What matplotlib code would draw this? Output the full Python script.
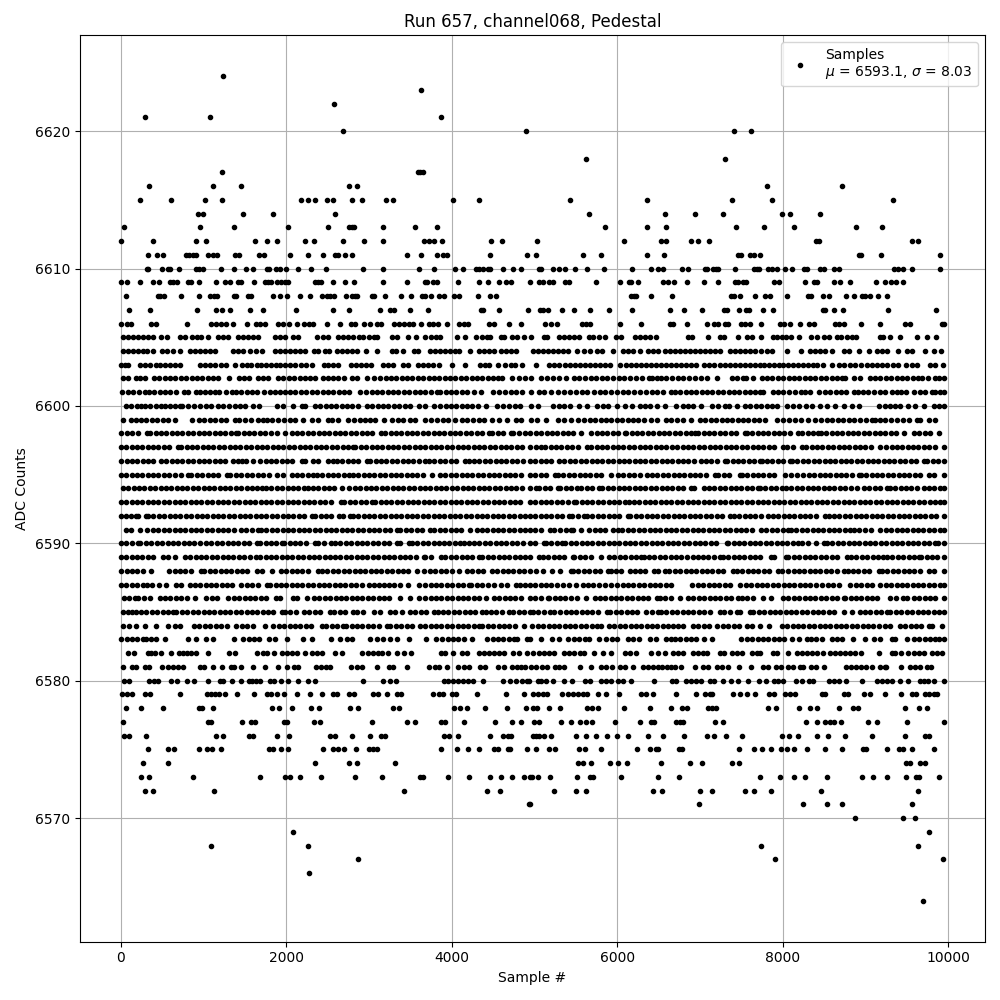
import matplotlib
matplotlib.use("Agg")
import matplotlib.pyplot as plt

# sample numbers, one list per ADC level
adc_6624 = [1232]
adc_6623 = [3632]
adc_6622 = [2578]
adc_6621 = [287, 1075, 3874]
adc_6620 = [2687, 4892, 7414, 7620]
adc_6618 = [5620, 7305]
adc_6617 = [1220, 3588, 3616, 3648]
adc_6616 = [335, 1111, 1450, 2759, 2856, 7814, 8711]
adc_6615 = [238, 602, 1014, 1220, 2178, 2262, 2347, 2493, 2565, 2796, 2917, 3208, 3293, 4020, 4335, 5426, 6360, 7390, 7875, 9329]
adc_6614 = [929, 990, 1475, 1838, 2590, 5657, 6578, 6941, 7281, 7996, 8093, 8456]
adc_6613 = [44, 953, 1366, 2020, 2505, 2759, 2790, 2820, 3171, 3559, 3826, 5851, 6360, 6590, 7438, 7778, 8141, 8881, 9196]
adc_6612 = [8, 384, 905, 1026, 1620, 1765, 1887, 2226, 2335, 2687, 2941, 3171, 3668, 3729, 3790, 3886, 4480, 4602, 5026, 6081, 6529, 6586, 6893, 6978, 7111, 8404, 8436, 9559, 9632]
adc_6611 = [323, 432, 505, 784, 828, 869, 909, 1050, 1111, 1159, 1378, 1426, 1669, 1725, 2044, 2262, 2444, 2586, 2626, 2711, 2796, 3462, 3632, 3818, 3899, 3939, 4468, 4905, 5014, 5584, 5802, 6360, 6566, 7462, 7495, 7604, 7656, 7729, 8917, 8945, 9184, 9899]
adc_6610 = [311, 330, 493, 566, 594, 699, 905, 950, 990, 1208, 1366, 1511, 1596, 1765, 1797, 1875, 1923, 1996, 2141, 2299, 2481, 2929, 3171, 3608, 3790, 4044, 4141, 4295, 4327, 4383, 4432, 4464, 4614, 4735, 4832, 5051, 5075, 5228, 5293, 5366, 5487, 5632, 5838, 6178, 6408, 6493, 6553, 6784, 6856, 7063, 7087, 7159, 7190, 7220, 7426, 7652, 7685, 7717, 7826, 7866, 7931, 8032, 8117, 8259, 8299, 8452, 8493, 8622, 8678, 9349, 9398, 9454, 9559, 9899]
adc_6609 = [0, 69, 226, 392, 465, 598, 635, 675, 816, 848, 941, 1147, 1256, 1317, 1414, 1454, 1608, 1745, 1778, 1814, 1887, 1939, 1984, 2024, 2343, 2383, 2424, 2565, 2711, 2820, 3167, 3462, 3676, 3700, 3777, 3826, 4080, 4335, 4432, 4565, 4650, 4711, 4941, 5051, 5100, 5180, 5220, 5374, 5422, 5741, 6032, 6141, 6165, 6250, 6553, 6614, 6687, 6844, 7050, 7220, 7426, 7462, 7515, 7555, 7899, 7951, 8274, 8380, 8420, 8614, 8687, 8808, 9123, 9232, 9305, 9369, 9450]
adc_6608 = [57, 444, 477, 517, 723, 941, 1075, 1123, 1160, 1374, 1394, 1535, 1575, 1838, 1923, 2008, 2165, 2287, 2432, 2493, 2525, 2578, 2723, 2796, 2828, 2860, 3030, 3062, 3196, 3390, 3511, 3644, 3676, 3753, 3850, 3911, 4032, 4093, 4311, 4468, 4529, 6166, 6198, 6222, 6408, 6663, 7374, 7406, 7487, 7669, 7790, 7850, 8048, 8311, 8343, 8481, 8553, 8759, 8856, 8957, 8990, 9050, 9147, 9256]
adc_6607 = [97, 356, 925, 1155, 1224, 1321, 1563, 1721, 2121, 2561, 2763, 3127, 3256, 3297, 3491, 3709, 4355, 4379, 4569, 4920, 5067, 5108, 5160, 5329, 5475, 5669, 5899, 6178, 6638, 6808, 7026, 7293, 7329, 7475, 7555, 7588, 7765, 7887, 8481, 8505, 8614, 8723, 9268, 9850]
adc_6606 = [4, 69, 125, 368, 420, 800, 1095, 1155, 1216, 1277, 1361, 1527, 1628, 1681, 1741, 1903, 1955, 2036, 2133, 2218, 2279, 2327, 2489, 2650, 2780, 2832, 2941, 3006, 3095, 3143, 3297, 3357, 3418, 3478, 3531, 3628, 3721, 3773, 3834, 3943, 4084, 4145, 4194, 4448, 4509, 4690, 4840, 5127, 5204, 5277, 5576, 5624, 5673, 6028, 6283, 6634, 6675, 6844, 7079, 7172, 7220, 7301, 7341, 7491, 7543, 7604, 7741, 7967, 8016, 8089, 8210, 8319, 8372, 8634, 8674, 8735, 8949, 9180, 9483, 9543, 9927, 9945]
adc_6605 = [32, 85, 145, 206, 267, 327, 388, 489, 558, 719, 772, 865, 921, 974, 1054, 1176, 1236, 1297, 1418, 1479, 1539, 1600, 1660, 1862, 1923, 1984, 2085, 2145, 2376, 2448, 2509, 2630, 2691, 2751, 2812, 2873, 2933, 2994, 3054, 3095, 3276, 3337, 3470, 3567, 3680, 3749, 3810, 3862, 4064, 4165, 4295, 4367, 4428, 4468, 4589, 4630, 4731, 4791, 4872, 4958, 5119, 5148, 5293, 5354, 5414, 5475, 5543, 5657, 5705, 5778, 5851, 5988, 6048, 6210, 6271, 6331, 6392, 6473, 6856, 6905, 7099, 7240, 7289, 7462, 7572, 7624, 7737, 7879, 7935, 7988, 8040, 8097, 8202, 8343, 8420, 8493, 8553, 8654, 8703, 8776, 8836, 8889, 9171, 9212, 9301, 9422, 9624, 9745, 9850]
adc_6604 = [24, 85, 145, 206, 267, 315, 388, 501, 558, 630, 711, 832, 893, 961, 1014, 1075, 1135, 1357, 1418, 1479, 1567, 1628, 1701, 1862, 1923, 1984, 2044, 2105, 2165, 2226, 2335, 2388, 2468, 2521, 2610, 2671, 2731, 2792, 2852, 2965, 3095, 3276, 3329, 3410, 3539, 3588, 3741, 3802, 3862, 3923, 3983, 4044, 4084, 4226, 4327, 4388, 4448, 4509, 4589, 4650, 4711, 4771, 4978, 5038, 5099, 5160, 5220, 5281, 5341, 5402, 5511, 5604, 5665, 5758, 5818, 5947, 6069, 6129, 6190, 6271, 6372, 6432, 6493, 6574, 6634, 6695, 6755, 6816, 6877, 6937, 6998, 7058, 7119, 7180, 7240, 7361, 7422, 7483, 7543, 7604, 7664, 7733, 7806, 7866, 8056, 8222, 8331, 8392, 8452, 8513, 8594, 8735, 8796, 8917, 9038, 9139, 9200, 9260, 9390, 9503, 9563, 9725, 9826, 9907]
adc_6603 = [0, 55, 90, 226, 290, 350, 420, 478, 530, 590, 650, 720, 953, 1015, 1075, 1140, 1205, 1270, 1385, 1470, 1520, 1575, 1640, 1700, 1755, 1810, 1870, 1930, 1990, 2050, 2110, 2175, 2240, 2310, 2450, 2510, 2570, 2625, 2780, 2840, 2900, 2960, 3025, 3165, 3225, 3290, 3410, 3465, 3590, 3650, 3715, 3775, 3840, 4000, 4165, 4340, 4400, 4455, 4560, 4640, 4710, 4770, 4850, 5018, 5180, 5240, 5300, 5365, 5430, 5490, 5550, 5605, 5665, 5730, 5790, 5850, 5910, 6030, 6110, 6170, 6230, 6290, 6350, 6410, 6470, 6530, 6590, 6650, 6710, 6770, 6830, 6890, 6950, 7050, 7110, 7175, 7240, 7300, 7360, 7420, 7480, 7540, 7600, 7665, 7720, 7770, 7830, 7890, 7950, 8000, 8060, 8120, 8180, 8240, 8300, 8360, 8420, 8490, 8600, 8680, 8740, 8810, 8875, 8950, 9020, 9080, 9140, 9200, 9260, 9330, 9390, 9495, 9560, 9620, 9780, 9840, 9940]
adc_6602 = [24, 90, 186, 226, 290, 400, 465, 530, 595, 660, 725, 790, 855, 920, 985, 1050, 1115, 1177, 1309, 1430, 1490, 1551, 1660, 1720, 1781, 1903, 1965, 2030, 2095, 2160, 2225, 2290, 2350, 2448, 2509, 2570, 2630, 2700, 2792, 2860, 2981, 3062, 3135, 3200, 3265, 3330, 3395, 3460, 3525, 3590, 3655, 3720, 3785, 3850, 3915, 3980, 4045, 4110, 4175, 4240, 4305, 4370, 4435, 4500, 4555, 4610, 4731, 4812, 4880, 4955, 5079, 5150, 5225, 5301, 5382, 5483, 5543, 5610, 5680, 5745, 5810, 5880, 5950, 6020, 6085, 6149, 6222, 6300, 6384, 6424, 6480, 6533, 6594, 6660, 6730, 6800, 6869, 6937, 7010, 7079, 7208, 7382, 7450, 7523, 7555, 7636, 7745, 7810, 7875, 7940, 8005, 8070, 8135, 8200, 8265, 8330, 8395, 8460, 8525, 8590, 8655, 8715, 8755, 8856, 8937, 9050, 9115, 9180, 9245, 9310, 9375, 9440, 9505, 9570, 9635, 9684, 9753, 9846, 9886, 9947]
adc_6601 = [12, 85, 150, 225, 287, 339, 405, 470, 535, 600, 665, 760, 812, 913, 953, 1020, 1075, 1135, 1188, 1277, 1340, 1398, 1458, 1520, 1580, 1640, 1733, 1800, 1860, 1925, 1984, 2044, 2110, 2175, 2240, 2307, 2376, 2440, 2505, 2570, 2635, 2700, 2763, 2893, 2965, 3034, 3095, 3160, 3225, 3290, 3355, 3420, 3485, 3550, 3615, 3680, 3745, 3822, 3862, 3925, 3990, 4055, 4120, 4185, 4266, 4359, 4500, 4570, 4640, 4710, 4780, 4850, 4955, 5059, 5119, 5200, 5281, 5354, 5430, 5500, 5570, 5640, 5715, 5786, 5855, 5925, 5995, 6065, 6135, 6205, 6275, 6345, 6415, 6485, 6555, 6654, 6695, 6760, 6825, 6890, 6955, 7020, 7085, 7150, 7215, 7280, 7345, 7410, 7475, 7540, 7605, 7670, 7725, 7765, 7879, 7947, 8008, 8080, 8150, 8215, 8270, 8331, 8444, 8510, 8575, 8640, 8705, 8770, 8856, 8905, 8970, 9035, 9100, 9170, 9240, 9321, 9375, 9430, 9491, 9584, 9664, 9725, 9806, 9846, 9900, 9947]
adc_6600 = [65, 125, 190, 246, 287, 347, 420, 489, 529, 590, 650, 711, 743, 810, 880, 953, 1034, 1095, 1176, 1240, 1310, 1378, 1440, 1500, 1600, 1673, 1891, 1963, 2085, 2186, 2226, 2347, 2410, 2475, 2540, 2605, 2670, 2735, 2800, 2872, 2973, 3040, 3105, 3170, 3235, 3300, 3365, 3430, 3495, 3600, 3680, 3781, 3862, 3925, 3990, 4055, 4120, 4185, 4250, 4315, 4408, 4549, 4620, 4690, 4760, 4830, 4955, 5038, 5220, 5290, 5360, 5430, 5543, 5632, 5758, 5825, 5890, 5996, 6089, 6180, 6271, 6331, 6400, 6480, 6574, 6715, 6790, 6860, 6917, 7010, 7139, 7220, 7301, 7353, 7450, 7543, 7610, 7675, 7740, 7805, 7870, 7935, 8048, 8129, 8200, 8275, 8350, 8452, 8533, 8634, 8735, 8836, 8917, 9159, 9230, 9300, 9361, 9414, 9515, 9604, 9705, 9826, 9890, 9945]
adc_6599 = [24, 125, 178, 245, 310, 375, 440, 505, 570, 650, 865, 945, 1010, 1075, 1140, 1205, 1270, 1378, 1430, 1500, 1570, 1660, 1721, 1761, 1830, 1900, 1970, 2044, 2109, 2198, 2307, 2388, 2509, 2549, 2630, 2751, 2820, 2885, 2950, 3014, 3074, 3175, 3276, 3345, 3415, 3490, 3559, 3680, 3750, 3820, 3890, 3960, 4044, 4125, 4190, 4260, 4327, 4387, 4488, 4569, 4670, 4771, 4840, 4955, 5026, 5139, 5281, 5360, 5442, 5531, 5604, 5670, 5735, 5800, 5865, 5930, 5995, 6060, 6125, 6190, 6255, 6320, 6412, 6481, 6586, 6650, 6720, 6800, 6897, 6998, 7065, 7130, 7195, 7260, 7325, 7390, 7455, 7520, 7585, 7650, 7715, 7786, 7927, 8008, 8081, 8149, 8220, 8300, 8392, 8460, 8530, 8600, 8670, 8727, 8796, 8865, 8935, 9005, 9078, 9119, 9180, 9240, 9310, 9380, 9450, 9520, 9624, 9664, 9765, 9838]
adc_6598 = [4, 70, 140, 210, 315, 355, 420, 485, 550, 615, 680, 745, 810, 875, 940, 1005, 1070, 1135, 1200, 1265, 1330, 1390, 1418, 1485, 1550, 1615, 1680, 1745, 1810, 1883, 1984, 2064, 2130, 2195, 2260, 2325, 2390, 2455, 2520, 2585, 2650, 2715, 2780, 2845, 2910, 2975, 3040, 3143, 3196, 3260, 3325, 3390, 3455, 3520, 3585, 3650, 3715, 3780, 3845, 3910, 3975, 4040, 4105, 4170, 4235, 4300, 4365, 4448, 4488, 4555, 4625, 4711, 4743, 4810, 4880, 4950, 5018, 5079, 5145, 5210, 5275, 5340, 5405, 5470, 5564, 5685, 5750, 5815, 5880, 5945, 6010, 6089, 6109, 6175, 6240, 6305, 6370, 6435, 6500, 6565, 6630, 6695, 6760, 6825, 6890, 6937, 6978, 7045, 7110, 7175, 7240, 7305, 7370, 7435, 7543, 7563, 7630, 7695, 7760, 7825, 7890, 7955, 8020, 8085, 8190, 8230, 8300, 8365, 8432, 8460, 8525, 8590, 8655, 8720, 8785, 8850, 8915, 8980, 9045, 9110, 9175, 9240, 9305, 9370, 9462, 9584, 9650, 9715, 9780, 9886]
adc_6597 = [0, 65, 130, 195, 260, 325, 390, 455, 520, 585, 691, 731, 795, 860, 925, 990, 1055, 1120, 1185, 1250, 1315, 1380, 1445, 1510, 1575, 1640, 1705, 1770, 1835, 1900, 1965, 2030, 2095, 2160, 2225, 2290, 2355, 2420, 2485, 2550, 2615, 2680, 2745, 2812, 2832, 2900, 2965, 3030, 3095, 3160, 3225, 3290, 3355, 3420, 3485, 3550, 3615, 3680, 3745, 3810, 3875, 3940, 4005, 4070, 4135, 4200, 4265, 4330, 4395, 4460, 4525, 4590, 4655, 4720, 4785, 4850, 4950, 5018, 5079, 5131, 5195, 5260, 5325, 5390, 5455, 5520, 5632, 5685, 5750, 5815, 5880, 5945, 6010, 6075, 6140, 6205, 6270, 6335, 6400, 6465, 6530, 6595, 6660, 6725, 6790, 6855, 6920, 6985, 7050, 7115, 7180, 7245, 7310, 7375, 7440, 7505, 7570, 7635, 7700, 7765, 7830, 7895, 8008, 8048, 8120, 8230, 8283, 8350, 8415, 8480, 8545, 8610, 8675, 8740, 8805, 8870, 8935, 9000, 9065, 9180, 9248, 9315, 9380, 9445, 9510, 9575, 9640, 9705, 9770, 9835, 9945]
adc_6596 = [4, 70, 135, 200, 265, 330, 395, 489, 549, 615, 680, 745, 810, 875, 940, 1005, 1070, 1135, 1200, 1265, 1357, 1418, 1470, 1519, 1600, 1681, 1750, 1815, 1880, 1945, 2010, 2075, 2186, 2226, 2327, 2388, 2500, 2569, 2610, 2675, 2740, 2805, 2870, 2973, 3014, 3080, 3145, 3210, 3275, 3340, 3405, 3470, 3535, 3600, 3680, 3721, 3790, 3855, 3920, 3985, 4050, 4165, 4205, 4270, 4335, 4400, 4465, 4530, 4595, 4660, 4725, 4790, 4855, 4950, 5010, 5075, 5140, 5205, 5301, 5362, 5430, 5495, 5560, 5625, 5690, 5755, 5820, 5885, 5950, 6015, 6080, 6145, 6210, 6275, 6340, 6405, 6470, 6535, 6600, 6665, 6730, 6795, 6860, 6925, 7018, 7071, 7127, 7200, 7301, 7329, 7395, 7460, 7525, 7590, 7655, 7725, 7745, 7810, 7875, 7940, 8005, 8089, 8109, 8175, 8240, 8311, 8372, 8440, 8505, 8570, 8635, 8700, 8765, 8830, 8895, 8960, 9025, 9090, 9155, 9220, 9285, 9350, 9415, 9480, 9545, 9610, 9705, 9745, 9815, 9880, 9945]
adc_6595 = [0, 65, 130, 195, 260, 325, 390, 455, 520, 585, 650, 730, 812, 853, 920, 985, 1050, 1115, 1176, 1285, 1317, 1398, 1458, 1525, 1590, 1655, 1720, 1785, 1883, 1963, 2064, 2130, 2195, 2260, 2327, 2368, 2435, 2500, 2565, 2630, 2695, 2763, 2804, 2870, 2935, 3000, 3065, 3130, 3195, 3260, 3325, 3390, 3455, 3520, 3585, 3650, 3761, 3854, 3923, 3990, 4055, 4120, 4185, 4250, 4315, 4380, 4445, 4510, 4575, 4640, 4705, 4770, 4835, 4950, 5010, 5075, 5140, 5253, 5281, 5350, 5415, 5480, 5545, 5610, 5675, 5740, 5805, 5927, 6008, 6075, 6140, 6205, 6270, 6360, 6424, 6481, 6550, 6615, 6680, 6745, 6810, 6875, 6940, 7005, 7070, 7180, 7220, 7290, 7355, 7483, 7503, 7570, 7635, 7700, 7765, 7830, 7895, 8028, 8097, 8169, 8250, 8315, 8380, 8445, 8510, 8575, 8640, 8705, 8770, 8835, 8917, 8945, 9010, 9075, 9140, 9205, 9270, 9335, 9400, 9465, 9530, 9604, 9656, 9765, 9834, 9945]
adc_6594 = [24, 90, 155, 220, 285, 350, 415, 480, 545, 610, 675, 740, 805, 870, 935, 1000, 1065, 1130, 1195, 1260, 1325, 1390, 1455, 1520, 1585, 1650, 1701, 1753, 1820, 1885, 1950, 2015, 2080, 2145, 2210, 2266, 2319, 2385, 2450, 2515, 2580, 2670, 2763, 2830, 2895, 2960, 3025, 3090, 3155, 3220, 3285, 3350, 3415, 3480, 3545, 3610, 3675, 3740, 3805, 3870, 3935, 4000, 4065, 4130, 4195, 4260, 4325, 4390, 4455, 4520, 4585, 4650, 4715, 4780, 4845, 4950, 5018, 5059, 5125, 5190, 5281, 5313, 5380, 5445, 5511, 5564, 5630, 5695, 5778, 5818, 5885, 5950, 6015, 6080, 6145, 6210, 6275, 6340, 6405, 6470, 6535, 6600, 6665, 6730, 6795, 6897, 6925, 7043, 7110, 7175, 7240, 7305, 7370, 7435, 7500, 7565, 7630, 7705, 7725, 7790, 7855, 7920, 7988, 8040, 8105, 8170, 8235, 8300, 8365, 8430, 8495, 8560, 8625, 8690, 8755, 8820, 8897, 8977, 9045, 9110, 9175, 9260, 9293, 9360, 9425, 9490, 9555, 9620, 9705, 9765, 9830, 9895, 9945]
adc_6593 = [0, 65, 130, 195, 260, 325, 390, 455, 520, 585, 650, 715, 780, 845, 910, 975, 1040, 1105, 1170, 1235, 1300, 1365, 1430, 1495, 1560, 1625, 1690, 1755, 1820, 1885, 1950, 2015, 2080, 2145, 2210, 2275, 2340, 2405, 2470, 2535, 2658, 2703, 2770, 2835, 2900, 2965, 3034, 3074, 3140, 3205, 3270, 3335, 3400, 3465, 3530, 3595, 3660, 3725, 3790, 3855, 3920, 3985, 4050, 4115, 4180, 4245, 4310, 4375, 4440, 4505, 4570, 4635, 4700, 4765, 4830, 4950, 5010, 5075, 5140, 5205, 5270, 5335, 5400, 5483, 5503, 5570, 5635, 5700, 5765, 5830, 5895, 5960, 6025, 6090, 6141, 6198, 6265, 6330, 6395, 6460, 6525, 6590, 6655, 6720, 6785, 6850, 6915, 6980, 7045, 7110, 7175, 7240, 7305, 7370, 7435, 7500, 7565, 7630, 7695, 7760, 7825, 7890, 7955, 8020, 8085, 8150, 8215, 8280, 8345, 8410, 8475, 8540, 8605, 8670, 8735, 8800, 8865, 8930, 8995, 9060, 9125, 9190, 9255, 9320, 9385, 9450, 9515, 9580, 9645, 9710, 9775, 9840, 9905, 9945]
adc_6592 = [0, 60, 125, 178, 210, 307, 327, 395, 460, 525, 590, 655, 720, 785, 850, 915, 980, 1045, 1110, 1175, 1240, 1305, 1370, 1435, 1500, 1565, 1630, 1695, 1760, 1825, 1890, 1955, 2020, 2085, 2150, 2215, 2307, 2347, 2415, 2480, 2545, 2642, 2691, 2771, 2804, 2870, 2935, 3000, 3065, 3130, 3195, 3260, 3325, 3390, 3455, 3520, 3585, 3650, 3715, 3780, 3845, 3910, 3975, 4040, 4105, 4170, 4235, 4300, 4365, 4430, 4495, 4560, 4625, 4690, 4755, 4820, 4885, 4950, 5010, 5075, 5140, 5205, 5270, 5335, 5422, 5454, 5520, 5604, 5636, 5700, 5765, 5830, 5895, 5960, 6025, 6129, 6158, 6225, 6290, 6355, 6420, 6485, 6550, 6615, 6680, 6745, 6810, 6875, 6940, 7005, 7070, 7135, 7200, 7265, 7361, 7410, 7475, 7540, 7605, 7670, 7735, 7826, 7879, 7945, 8010, 8075, 8140, 8205, 8270, 8335, 8400, 8513, 8553, 8620, 8685, 8750, 8815, 8880, 8945, 9010, 9075, 9140, 9205, 9270, 9335, 9400, 9465, 9530, 9595, 9660, 9725, 9790, 9855, 9945]
adc_6591 = [57, 120, 238, 315, 388, 455, 520, 585, 650, 715, 780, 845, 910, 975, 1040, 1105, 1170, 1235, 1300, 1365, 1458, 1519, 1585, 1660, 1693, 1760, 1825, 1890, 1955, 2020, 2085, 2150, 2215, 2280, 2345, 2410, 2475, 2540, 2605, 2670, 2735, 2800, 2865, 2930, 2995, 3060, 3125, 3190, 3255, 3337, 3378, 3445, 3510, 3575, 3640, 3741, 3790, 3855, 3920, 3985, 4050, 4115, 4218, 4299, 4365, 4430, 4495, 4560, 4625, 4690, 4755, 4820, 4885, 4950, 5010, 5075, 5188, 5241, 5310, 5375, 5442, 5463, 5564, 5657, 5725, 5790, 5855, 5947, 6008, 6061, 6130, 6195, 6260, 6325, 6390, 6455, 6520, 6585, 6650, 6715, 6780, 6845, 6910, 6975, 7040, 7105, 7170, 7235, 7300, 7365, 7430, 7495, 7560, 7625, 7733, 7794, 7866, 7935, 8000, 8068, 8097, 8165, 8230, 8295, 8360, 8425, 8490, 8555, 8620, 8685, 8756, 8808, 8856, 8925, 8990, 9066, 9180, 9245, 9310, 9375, 9440, 9505, 9570, 9635, 9700, 9765, 9830, 9895, 9945]
adc_6590 = [0, 65, 130, 206, 238, 305, 370, 435, 500, 565, 630, 695, 760, 825, 890, 955, 1034, 1095, 1160, 1225, 1290, 1355, 1420, 1485, 1550, 1640, 1681, 1750, 1815, 1880, 1943, 1972, 2040, 2105, 2170, 2235, 2347, 2388, 2460, 2537, 2590, 2655, 2720, 2785, 2850, 2915, 2980, 3045, 3110, 3175, 3240, 3337, 3378, 3478, 3519, 3585, 3650, 3715, 3780, 3842, 3902, 3970, 4035, 4100, 4153, 4205, 4270, 4335, 4400, 4465, 4530, 4595, 4660, 4725, 4790, 4855, 4950, 5010, 5119, 5139, 5205, 5270, 5333, 5374, 5440, 5505, 5570, 5635, 5700, 5765, 5830, 5895, 5960, 6025, 6090, 6155, 6220, 6285, 6350, 6415, 6480, 6545, 6610, 6675, 6740, 6805, 6870, 6935, 7000, 7065, 7130, 7195, 7321, 7341, 7405, 7470, 7535, 7600, 7665, 7730, 7795, 7860, 7925, 7990, 8055, 8120, 8190, 8230, 8311, 8400, 8493, 8533, 8600, 8665, 8730, 8795, 8860, 8925, 8990, 9055, 9120, 9185, 9250, 9315, 9380, 9445, 9510, 9575, 9640, 9705, 9770, 9846, 9874, 9945]
adc_6589 = [0, 65, 130, 195, 260, 325, 390, 509, 570, 650, 771, 840, 905, 970, 1035, 1100, 1165, 1230, 1295, 1360, 1425, 1490, 1559, 1632, 1681, 1750, 1815, 1880, 1945, 2010, 2075, 2140, 2205, 2270, 2335, 2400, 2465, 2529, 2590, 2655, 2720, 2785, 2850, 2915, 2980, 3045, 3110, 3175, 3240, 3305, 3370, 3435, 3500, 3565, 3660, 3680, 3745, 3870, 3923, 3990, 4055, 4120, 4185, 4250, 4327, 4367, 4435, 4500, 4565, 4630, 4695, 4760, 4825, 4890, 4950, 5059, 5099, 5165, 5230, 5295, 5360, 5463, 5483, 5550, 5615, 5680, 5806, 5899, 5965, 6030, 6095, 6160, 6225, 6291, 6319, 6385, 6450, 6515, 6580, 6645, 6710, 6775, 6840, 6917, 6970, 7035, 7100, 7165, 7240, 7273, 7340, 7405, 7470, 7535, 7600, 7665, 7730, 7854, 7899, 8040, 8069, 8135, 8200, 8265, 8330, 8395, 8460, 8525, 8590, 8655, 8776, 8824, 8890, 8955, 9020, 9085, 9150, 9212, 9261, 9325, 9390, 9455, 9520, 9585, 9644, 9672, 9740, 9805, 9870, 9945]
adc_6588 = [4, 70, 135, 200, 265, 368, 582, 650, 715, 780, 845, 974, 1006, 1075, 1140, 1205, 1270, 1335, 1400, 1465, 1530, 1640, 1701, 1830, 1931, 2000, 2065, 2130, 2195, 2260, 2388, 2436, 2497, 2565, 2630, 2695, 2760, 2825, 2890, 2955, 3020, 3085, 3150, 3215, 3280, 3345, 3410, 3475, 3579, 3668, 3735, 3800, 3865, 3930, 4004, 4093, 4185, 4246, 4315, 4380, 4488, 4549, 4615, 4680, 4745, 4810, 4875, 4950, 5018, 5099, 5212, 5313, 5442, 5463, 5530, 5595, 5660, 5725, 5790, 5887, 5919, 5985, 6050, 6149, 6210, 6275, 6340, 6440, 6493, 6574, 6626, 6695, 6760, 6825, 6890, 6955, 7020, 7085, 7150, 7215, 7280, 7402, 7442, 7510, 7575, 7640, 7705, 7770, 7835, 7947, 7996, 8065, 8130, 8195, 8260, 8325, 8390, 8455, 8520, 8585, 8650, 8735, 8784, 8850, 8915, 8980, 9045, 9160, 9200, 9265, 9330, 9395, 9460, 9525, 9590, 9655, 9765, 9826, 9945]
adc_6587 = [0, 65, 130, 195, 267, 315, 380, 461, 549, 671, 731, 832, 893, 960, 1025, 1090, 1155, 1220, 1285, 1349, 1458, 1525, 1590, 1655, 1761, 1802, 1870, 1935, 2000, 2065, 2130, 2195, 2260, 2325, 2390, 2455, 2520, 2585, 2650, 2715, 2780, 2845, 2910, 2994, 3060, 3115, 3175, 3240, 3305, 3370, 3470, 3600, 3680, 3745, 3810, 3875, 3940, 4005, 4070, 4135, 4205, 4238, 4305, 4370, 4435, 4509, 4589, 4662, 4771, 4824, 4890, 4950, 5010, 5075, 5140, 5205, 5270, 5341, 5414, 5500, 5584, 5644, 5710, 5775, 5846, 5927, 5996, 6069, 6129, 6195, 6260, 6325, 6390, 6455, 6520, 6594, 6654, 6909, 6975, 7040, 7105, 7170, 7235, 7300, 7365, 7483, 7555, 7620, 7685, 7750, 7815, 7880, 7945, 8010, 8075, 8140, 8205, 8270, 8331, 8396, 8473, 8545, 8606, 8675, 8816, 8885, 8950, 9015, 9078, 9180, 9245, 9310, 9375, 9440, 9505, 9570, 9635, 9700, 9765, 9830, 9895, 9945]
adc_6586 = [44, 105, 166, 206, 280, 347, 469, 535, 600, 665, 730, 795, 893, 1034, 1100, 1163, 1297, 1365, 1430, 1495, 1560, 1625, 1690, 1755, 1875, 1923, 2085, 2125, 2246, 2335, 2400, 2465, 2530, 2595, 2660, 2725, 2790, 2855, 2920, 2985, 3050, 3115, 3180, 3245, 3369, 3499, 3600, 3680, 3745, 3810, 3875, 3940, 4005, 4070, 4135, 4200, 4265, 4330, 4408, 4509, 4575, 4640, 4705, 4770, 4835, 4950, 5010, 5075, 5160, 5180, 5245, 5310, 5374, 5442, 5510, 5624, 5725, 5790, 5855, 5920, 5985, 6050, 6115, 6180, 6245, 6310, 6375, 6481, 6513, 6580, 6645, 6764, 6856, 6920, 6985, 7050, 7115, 7180, 7245, 7310, 7375, 7462, 7503, 7570, 7635, 7765, 7854, 8008, 8069, 8135, 8200, 8265, 8330, 8395, 8460, 8525, 8590, 8655, 8735, 8755, 8820, 8885, 8950, 9015, 9080, 9139, 9301, 9370, 9454, 9503, 9584, 9650, 9715, 9780, 9845, 9945]
adc_6585 = [24, 85, 137, 178, 245, 310, 375, 440, 505, 570, 630, 671, 740, 805, 870, 935, 1000, 1065, 1130, 1195, 1260, 1325, 1390, 1455, 1520, 1585, 1650, 1715, 1780, 1845, 1943, 1984, 2050, 2115, 2218, 2275, 2345, 2410, 2529, 2578, 2645, 2710, 2812, 2860, 2930, 3054, 3127, 3248, 3317, 3400, 3491, 3559, 3625, 3690, 3781, 3830, 3895, 3960, 4025, 4090, 4155, 4220, 4285, 4367, 4408, 4475, 4540, 4605, 4690, 4743, 4810, 4875, 4950, 4978, 5045, 5110, 5188, 5241, 5310, 5375, 5440, 5505, 5570, 5635, 5700, 5765, 5875, 5915, 5985, 6050, 6115, 6180, 6238, 6351, 6420, 6493, 6533, 6594, 6660, 6725, 6790, 6855, 6920, 6985, 7050, 7115, 7240, 7289, 7360, 7442, 7483, 7604, 7644, 7710, 7775, 7840, 7905, 7970, 8035, 8100, 8165, 8230, 8295, 8360, 8425, 8490, 8555, 8620, 8735, 8836, 8937, 8990, 9060, 9125, 9190, 9260, 9301, 9370, 9435, 9500, 9565, 9630, 9695, 9760, 9825, 9890, 9947]
adc_6584 = [32, 105, 180, 287, 428, 570, 650, 719, 881, 950, 1015, 1080, 1150, 1216, 1285, 1398, 1465, 1530, 1600, 1741, 1842, 1910, 1975, 2040, 2105, 2170, 2235, 2300, 2428, 2481, 2550, 2615, 2691, 2723, 2792, 2852, 2920, 2985, 3050, 3115, 3216, 3256, 3325, 3390, 3455, 3520, 3620, 3680, 3745, 3810, 3875, 3940, 4005, 4070, 4135, 4200, 4265, 4327, 4367, 4435, 4500, 4565, 4630, 4695, 4760, 4872, 4970, 5038, 5105, 5170, 5235, 5300, 5365, 5430, 5495, 5560, 5625, 5690, 5755, 5806, 5899, 5965, 6030, 6095, 6160, 6225, 6290, 6355, 6420, 6485, 6550, 6615, 6675, 6735, 6800, 6917, 6978, 7045, 7110, 7200, 7273, 7340, 7405, 7470, 7563, 7624, 7725, 7838, 7988, 8055, 8120, 8185, 8250, 8315, 8380, 8445, 8510, 8575, 8640, 8705, 8770, 8835, 8900, 8965, 9030, 9095, 9160, 9240, 9301, 9414, 9480, 9545, 9610, 9675, 9765, 9806, 9927]
adc_6583 = [0, 70, 135, 200, 267, 299, 365, 430, 533, 812, 913, 1034, 1115, 1370, 1479, 1545, 1610, 1675, 1794, 1862, 2004, 2206, 2315, 2545, 2650, 2731, 2800, 3006, 3095, 3170, 3256, 3337, 3478, 3693, 3814, 3882, 3950, 4015, 4080, 4145, 4246, 4428, 4495, 4560, 4625, 4690, 4751, 4791, 4913, 4940, 5079, 5208, 5293, 5400, 5483, 5535, 5616, 5657, 5778, 5867, 5939, 5996, 6129, 6195, 6260, 6392, 6465, 6594, 6654, 6695, 6760, 6825, 6890, 6955, 7046, 7139, 7495, 7563, 7630, 7695, 7760, 7825, 7890, 7955, 8020, 8109, 8202, 8291, 8339, 8405, 8470, 8594, 8654, 8720, 8848, 8998, 9099, 9180, 9321, 9361, 9503, 9584, 9650, 9715, 9780, 9846, 9887, 9945]
adc_6582 = [81, 162, 323, 365, 408, 485, 602, 707, 750, 798, 850, 909, 1050, 1305, 1386, 1644, 1717, 1770, 1850, 1951, 2008, 2072, 2129, 2226, 2315, 2372, 2428, 2586, 2679, 2909, 2990, 3050, 3110, 3151, 3232, 3333, 3418, 3511, 3866, 3920, 4020, 4120, 4181, 4327, 4388, 4448, 4509, 4570, 4626, 4739, 4808, 4909, 4978, 5059, 5120, 5180, 5240, 5362, 5420, 5480, 5545, 5604, 5717, 5826, 5927, 6089, 6150, 6230, 6412, 6493, 6574, 6675, 6735, 6795, 6917, 6978, 7038, 7079, 7240, 7289, 7382, 7442, 7511, 7624, 7685, 7725, 7879, 7935, 8068, 8169, 8230, 8291, 8352, 8413, 8485, 8574, 8634, 8695, 8756, 8816, 8877, 8941, 9163, 9321, 9361, 9434, 9515, 9584, 9644, 9705, 9806, 9866, 9927]
adc_6581 = [28, 133, 182, 295, 343, 497, 566, 626, 687, 747, 962, 1010, 1119, 1220, 1333, 1374, 1454, 1596, 1737, 1899, 2008, 2089, 2141, 2363, 2424, 2484, 2533, 2788, 2849, 2909, 3091, 3244, 3293, 3462, 3729, 3797, 3850, 3947, 4080, 4149, 4214, 4343, 4404, 4553, 4634, 4727, 4788, 4836, 4889, 4958, 5018, 5091, 5148, 5252, 5301, 5362, 5552, 5685, 5806, 5867, 5939, 6028, 6089, 6190, 6311, 6372, 6432, 6493, 6545, 6602, 6654, 6703, 6776, 6937, 7038, 7099, 7200, 7260, 7341, 7475, 7620, 7766, 7826, 7923, 7984, 8068, 8129, 8210, 8250, 8339, 8400, 8493, 8767, 8828, 8888, 8941, 9002, 9079, 9180, 9240, 9252, 9434, 9543, 9604, 9656, 9745, 9786]
adc_6580 = [40, 101, 343, 404, 444, 602, 675, 796, 881, 1050, 1200, 1240, 1341, 1450, 1547, 1588, 1636, 1685, 1798, 1846, 1935, 2020, 2145, 2262, 2343, 2929, 3171, 3256, 3325, 3907, 3960, 4020, 4081, 4141, 4202, 4262, 4383, 4614, 4699, 4780, 4848, 4909, 4937, 5038, 5079, 5139, 5220, 5354, 5451, 5612, 5665, 5806, 5867, 5919, 6008, 6069, 6166, 6440, 6667, 6715, 6836, 6897, 6957, 7018, 7119, 7172, 7281, 7378, 7462, 7584, 7713, 7802, 7899, 7947, 8008, 8161, 8238, 8319, 8360, 8553, 8614, 8675, 8763, 8957, 9139, 9200, 9260, 9321, 9414, 9511, 9656, 9705, 9761, 9834, 9947]
adc_6579 = [12, 69, 141, 287, 347, 719, 1042, 1091, 1139, 1184, 1256, 1402, 1608, 1765, 1818, 1887, 1972, 2129, 2287, 2432, 2565, 2614, 2759, 2816, 3050, 3111, 3220, 3333, 3385, 3769, 3850, 3890, 4003, 4048, 4299, 4650, 4868, 4986, 5038, 5099, 5147, 5333, 5402, 5463, 5523, 5584, 5632, 5766, 5867, 6020, 6291, 6343, 6432, 6707, 6957, 7058, 7119, 7147, 7402, 7487, 7572, 7669, 7838, 7899, 8028, 8089, 8149, 8469, 8513, 8735, 8784, 8977, 9058, 9232, 9426, 9563, 9616, 9717, 9773, 9826, 9866]
adc_6578 = [57, 250, 505, 949, 981, 1111, 1826, 1911, 2068, 2299, 2396, 2771, 2868, 3293, 3361, 4032, 4097, 4190, 4404, 4663, 4892, 4977, 5034, 5172, 5309, 5636, 5697, 5766, 6081, 6396, 6650, 6784, 6844, 7099, 7143, 7188, 7826, 7923, 8202, 8335, 8408, 8675, 8844, 8905, 9475, 9644, 9745]
adc_6577 = [32, 1054, 1087, 1467, 1572, 1624, 1972, 2004, 2335, 2404, 3038, 3462, 3559, 3866, 3919, 4153, 4521, 4731, 4832, 4998, 5059, 5317, 5438, 5555, 5624, 5693, 5972, 6275, 6404, 6448, 6707, 6755, 6796, 7184, 7273, 8275, 8420, 8505, 8574, 8614, 8703, 9030, 9139, 9507, 9947]
adc_6576 = [44, 101, 299, 1147, 1232, 1547, 1596, 1883, 2032, 2529, 2586, 2792, 3014, 3143, 3191, 3907, 3971, 4080, 4456, 4614, 4674, 4715, 4977, 5018, 5059, 5119, 5204, 5499, 5620, 5741, 5871, 5996, 6129, 6372, 6553, 6804, 7087, 7172, 7317, 7511, 7988, 8081, 8190, 8408, 8541, 8747, 9075, 9475, 9725, 9765]
adc_6575 = [323, 566, 638, 941, 1042, 1099, 1208, 1790, 1838, 1935, 2020, 2444, 2565, 2626, 2699, 2844, 3001, 3050, 3091, 3874, 4068, 4202, 4335, 4513, 4553, 4674, 4706, 4905, 5018, 5172, 5244, 5535, 5608, 5802, 6238, 6396, 6465, 6493, 6747, 6787, 7475, 7656, 7753, 7862, 7984, 8048, 8141, 8299, 8505, 8711, 8966, 9006, 9256, 9402, 9454, 9559, 9826]
adc_6574 = [263, 566, 2347, 2759, 2856, 3317, 5523, 5584, 5681, 5911, 6008, 6117, 6529, 6881, 7026, 7390, 7475, 9495, 9543, 9656, 9721]
adc_6573 = [250, 335, 869, 1681, 1984, 2040, 2165, 2420, 2832, 3159, 3616, 3656, 3959, 4214, 4468, 4589, 4723, 4868, 4941, 4966, 5038, 5184, 5511, 5665, 5705, 6044, 6493, 6747, 7729, 7972, 8141, 8274, 8529, 8953, 9086, 9256, 9487, 9608, 9648, 9887]
adc_6572 = [287, 384, 1123, 3426, 4420, 4577, 5232, 5499, 5620, 6432, 6541, 7002, 7147, 7547, 7656, 7862, 8468, 9632]
adc_6571 = [4929, 4946, 6990, 8250, 8529, 8711, 9559]
adc_6570 = [8868, 9450, 9596]
adc_6569 = [2081, 9765]
adc_6568 = [1087, 2262, 7741, 9632]
adc_6567 = [2868, 7911, 9935]
adc_6566 = [2275]
adc_6564 = [9693]

levels = {6624: adc_6624, 6623: adc_6623, 6622: adc_6622, 6621: adc_6621, 6620: adc_6620,
          6618: adc_6618, 6617: adc_6617, 6616: adc_6616, 6615: adc_6615, 6614: adc_6614,
          6613: adc_6613, 6612: adc_6612, 6611: adc_6611, 6610: adc_6610, 6609: adc_6609,
          6608: adc_6608, 6607: adc_6607, 6606: adc_6606, 6605: adc_6605, 6604: adc_6604,
          6603: adc_6603, 6602: adc_6602, 6601: adc_6601, 6600: adc_6600, 6599: adc_6599,
          6598: adc_6598, 6597: adc_6597, 6596: adc_6596, 6595: adc_6595, 6594: adc_6594,
          6593: adc_6593, 6592: adc_6592, 6591: adc_6591, 6590: adc_6590, 6589: adc_6589,
          6588: adc_6588, 6587: adc_6587, 6586: adc_6586, 6585: adc_6585, 6584: adc_6584,
          6583: adc_6583, 6582: adc_6582, 6581: adc_6581, 6580: adc_6580, 6579: adc_6579,
          6578: adc_6578, 6577: adc_6577, 6576: adc_6576, 6575: adc_6575, 6574: adc_6574,
          6573: adc_6573, 6572: adc_6572, 6571: adc_6571, 6570: adc_6570, 6569: adc_6569,
          6568: adc_6568, 6567: adc_6567, 6566: adc_6566, 6564: adc_6564}

samples = []
counts = []
for level, xs in levels.items():
    samples.extend(xs)
    counts.extend([level] * len(xs))

plt.figure(figsize=(10, 10))
plt.plot(samples, counts, 'k.', label='Samples\n$\\mu$ = 6593.1, $\\sigma$ = 8.03')
plt.title('Run 657, channel068, Pedestal')
plt.xlabel('Sample #')
plt.ylabel('ADC Counts')
plt.grid(True)
plt.legend(loc='upper right')
plt.tight_layout()
plt.subplots_adjust(top=0.965)
plt.savefig('out.png', dpi=100)
